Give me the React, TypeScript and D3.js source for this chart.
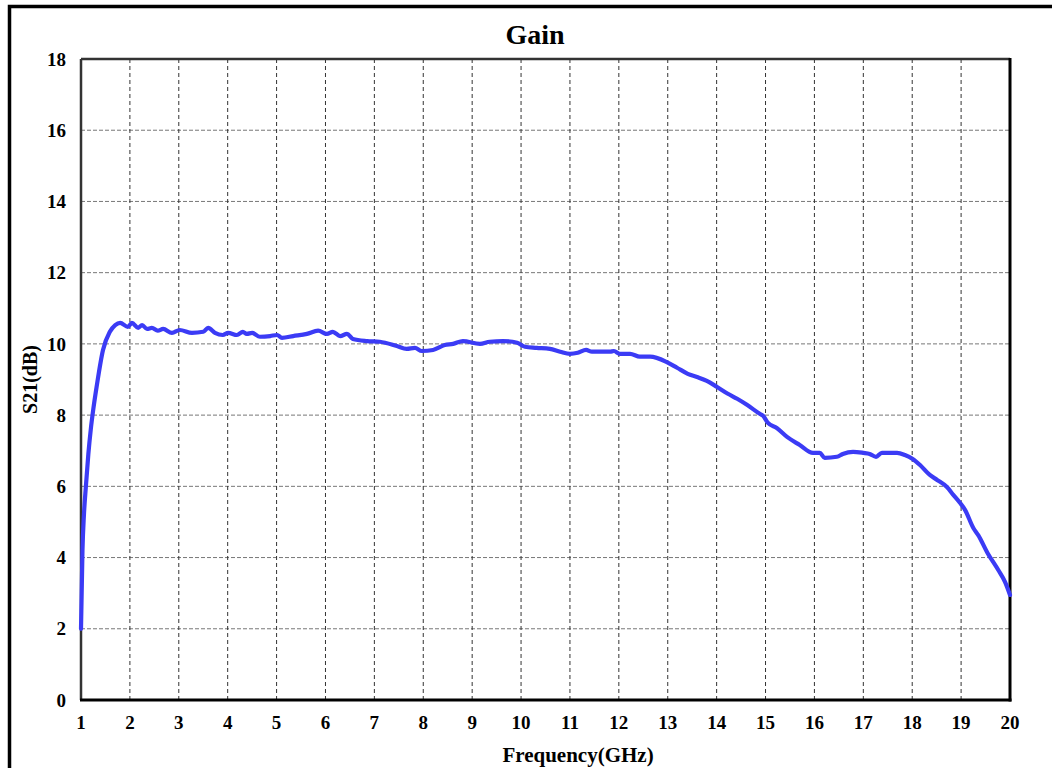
import * as d3 from "d3";

const freq = [
  1.0, 1.03, 1.06, 1.1, 1.15, 1.2, 1.25, 1.32, 1.45, 1.59, 1.7, 1.8, 1.96, 2.04, 2.17, 2.25,
  2.35, 2.45, 2.57, 2.68, 2.86, 3.02, 3.27, 3.5, 3.6, 3.74, 3.9, 4.01, 4.19, 4.31, 4.39,
  4.5, 4.66, 4.87, 5.01, 5.11, 5.34, 5.62, 5.85, 6.03, 6.15, 6.3, 6.44, 6.56, 6.85, 7.11,
  7.46, 7.66, 7.83, 7.97, 8.2, 8.44, 8.61, 8.81, 9.16, 9.36, 9.63, 9.92, 10.08, 10.32,
  10.59, 10.8, 11.0, 11.16, 11.33, 11.45, 11.61, 11.82, 11.9, 12.02, 12.23, 12.43, 12.64,
  12.98, 13.19, 13.41, 13.6, 13.8, 14.01, 14.23, 14.42, 14.62, 14.89, 14.95, 15.05, 15.23,
  15.44, 15.7, 15.97, 16.11, 16.21, 16.46, 16.58, 16.79, 17.0, 17.13, 17.26, 17.38, 17.69,
  17.85, 18.01, 18.16, 18.36, 18.51, 18.71, 18.84, 18.98, 19.08, 19.25, 19.35, 19.54,
  19.76, 19.9, 20.0,
];

const s21 = [
  2.0, 4.2, 5.2, 6.0, 6.9, 7.6, 8.15, 8.8, 9.83, 10.34, 10.53, 10.59, 10.48, 10.59, 10.45,
  10.53, 10.42, 10.45, 10.37, 10.42, 10.31, 10.39, 10.31, 10.34, 10.45, 10.31, 10.25,
  10.31, 10.25, 10.34, 10.28, 10.31, 10.2, 10.22, 10.25, 10.17, 10.22, 10.28, 10.37,
  10.28, 10.34, 10.22, 10.28, 10.14, 10.08, 10.06, 9.94, 9.86, 9.89, 9.8, 9.83, 9.97, 10.0,
  10.08, 10.0, 10.06, 10.08, 10.03, 9.92, 9.89, 9.86, 9.78, 9.72, 9.75, 9.83, 9.78, 9.78,
  9.78, 9.8, 9.72, 9.72, 9.64, 9.64, 9.49, 9.33, 9.16, 9.07, 8.96, 8.79, 8.6, 8.46, 8.29,
  8.03, 7.98, 7.78, 7.64, 7.39, 7.16, 6.94, 6.94, 6.8, 6.83, 6.91, 6.97, 6.94, 6.91, 6.83,
  6.94, 6.94, 6.88, 6.77, 6.6, 6.32, 6.18, 5.98, 5.76, 5.53, 5.34, 4.83, 4.63, 4.13, 3.65,
  3.31, 2.95,
];

const xTicks = d3.range(1, 21);
const yTicks = [0, 2, 4, 6, 8, 10, 12, 14, 16, 18];

const W = 1052;
const H = 768;
const left = 81;
const right = 1010;
const top = 59;
const bottom = 700;
const font = "Liberation Serif, Times New Roman, serif";

export default function App() {
  const x = d3.scaleLinear([1, 20], [left, right]);
  const y = d3.scaleLinear([0, 18], [bottom, top]);
  const line = d3
    .line<number>()
    .x((d) => x(d))
    .y((_, i) => y(s21[i]))
    .curve(d3.curveMonotoneX);

  return (
    <div style={{ position: "absolute", left: 0, top: 0 }}>
      <svg width={W} height={H} style={{ display: "block", background: "#fff", fontFamily: font }}>
        <rect x={9.5} y={6.5} width={1200} height={1000} fill="none" stroke="#000" strokeWidth={3.5} />

        {/* grid */}
        <g>
          {yTicks.slice(1, -1).map((t) => (
            <line key={"h" + t} x1={left} x2={right} y1={y(t)} y2={y(t)} stroke="#777" strokeWidth={1} strokeDasharray="4,2" />
          ))}
          {xTicks.slice(1, -1).map((t) => (
            <line key={"v" + t} x1={x(t)} x2={x(t)} y1={top} y2={bottom} stroke="#333" strokeWidth={1} strokeDasharray="4,3" />
          ))}
        </g>

        {/* frame */}
        <line x1={left} x2={right} y1={top} y2={top} stroke="#333" strokeWidth={2.5} />
        <line x1={left} x2={left} y1={top} y2={bottom} stroke="#333" strokeWidth={2.5} />
        <line x1={right} x2={right} y1={top - 1} y2={bottom + 1.5} stroke="#000" strokeWidth={3} />
        <line x1={left - 1} x2={right + 1.5} y1={bottom} y2={bottom} stroke="#000" strokeWidth={3} />

        <path d={line(freq)!} fill="none" stroke="#3b3bf5" strokeWidth={4.2} strokeLinejoin="round" strokeLinecap="round" />

        {/* tick labels */}
        <g style={{ fontFamily: font, fontWeight: "bold", fontSize: 19 }} fill="#000">
          {yTicks.map((t) => (
            <text key={"yl" + t} x={66} y={y(t)} dy="0.35em" textAnchor="end">
              {t}
            </text>
          ))}
          {xTicks.map((t) => (
            <text key={"xl" + t} x={x(t)} y={729} textAnchor="middle">
              {t}
            </text>
          ))}
        </g>

        <text x={535} y={44} textAnchor="middle" style={{ fontFamily: font, fontWeight: "bold", fontSize: 28 }}>
          Gain
        </text>
        <text x={578} y={762} textAnchor="middle" style={{ fontFamily: font, fontWeight: "bold", fontSize: 21 }}>
          Frequency(GHz)
        </text>
        <text
          transform={`translate(37,${(top + bottom) / 2}) rotate(-90)`}
          textAnchor="middle"
          style={{ fontFamily: font, fontWeight: "bold", fontSize: 20 }}
        >
          S21(dB)
        </text>
      </svg>
    </div>
  );
}
